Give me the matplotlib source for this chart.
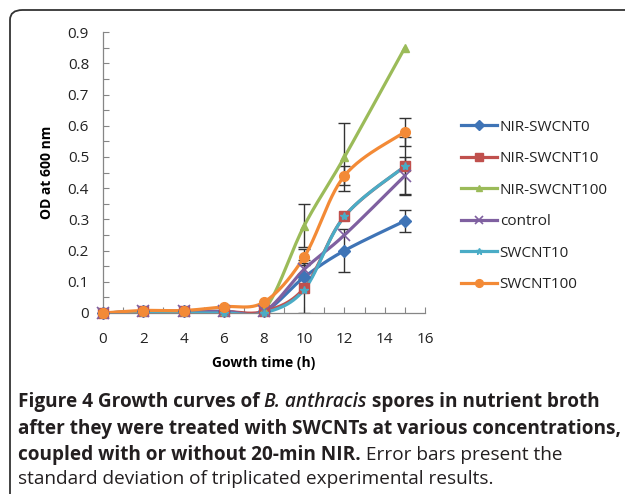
import numpy as np
import matplotlib
matplotlib.use("Agg")
import matplotlib.pyplot as plt
from matplotlib.patches import FancyBboxPatch
from matplotlib.ticker import MultipleLocator, FuncFormatter

#===============================================================================#
# data                                                   #
#===============================================================================#

hours = [0, 2, 4, 6, 8, 10, 12, 15]

nir_swcnt0   = [0.0, 0.005, 0.005, 0.005, 0.005, 0.115, 0.20, 0.295]
nir_swcnt10  = [0.0, 0.005, 0.005, 0.005, 0.005, 0.080, 0.31, 0.470]
nir_swcnt100 = [0.0, 0.005, 0.005, 0.005, 0.010, 0.280, 0.50, 0.850]
control      = [0.0, 0.005, 0.005, 0.005, 0.005, 0.140, 0.25, 0.440]
swcnt10      = [0.0, 0.000, 0.000, 0.000, 0.000, 0.075, 0.31, 0.470]
swcnt100     = [0.0, 0.008, 0.008, 0.020, 0.035, 0.180, 0.44, 0.580]

# standard deviations (only the visible ones)
err_nir_swcnt0   = [0, 0, 0, 0, 0, 0.00, 0.07, 0.035]
err_nir_swcnt10  = [0, 0, 0, 0, 0, 0.08, 0.00, 0.093]
err_nir_swcnt100 = [0, 0, 0, 0, 0, 0.07, 0.11, 0.000]
err_control      = [0, 0, 0, 0, 0, 0.03, 0.00, 0.060]
err_swcnt10      = [0, 0, 0, 0, 0, 0.00, 0.00, 0.000]
err_swcnt100     = [0, 0, 0, 0, 0, 0.025, 0.03, 0.045]

labels = ["NIR-SWCNT0", "NIR-SWCNT10", "NIR-SWCNT100", "control", "SWCNT10", "SWCNT100"]

#===============================================================================#
# helpers                                                                       #
#===============================================================================#

def smooth(x, y, n=30):
    # excel style smoothed line: cubic bezier through every point
    p = np.column_stack([x, y]).astype(float)
    pts = np.vstack([p[0], p, p[-1]])
    t = np.linspace(0, 1, n)[:, None]
    out = []
    for i in range(1, len(pts) - 2):
        p0, p1, p2, p3 = pts[i - 1], pts[i], pts[i + 1], pts[i + 2]
        c1 = p1 + (p2 - p0) / 6.0
        c2 = p2 - (p3 - p1) / 6.0
        seg = ((1 - t) ** 3) * p1 + 3 * ((1 - t) ** 2) * t * c1 + 3 * (1 - t) * t ** 2 * c2 + t ** 3 * p2
        out.append(seg if i == 1 else seg[1:])
    out = np.vstack(out)
    return out[:, 0], out[:, 1]

#===============================================================================#
# plot                                                                          #
#===============================================================================#

plt.rcParams['font.family'] = ['Open Sans', 'DejaVu Sans']

fig = plt.figure(figsize=(6.25, 4.94), dpi=100)
ax = fig.add_axes([0.1648, 0.3664, 0.5152, 0.5686])

series = [
    (nir_swcnt0,   err_nir_swcnt0,   '#3F74B6', dict(marker='D', ms=6,  mfc='#3F74B6', mec='#3F74B6')),
    (nir_swcnt10,  err_nir_swcnt10,  '#C0504D', dict(marker='s', ms=7,  mfc='#C0504D', mec='#C0504D')),
    (nir_swcnt100, err_nir_swcnt100, '#9BBB59', dict(marker='^', ms=6,  mfc='#9BBB59', mec='#9BBB59')),
    (control,      err_control,      '#7F60A0', dict(marker='x', ms=8,  mfc='none',    mec='#7F60A0', mew=1.2)),
    (swcnt10,      err_swcnt10,      '#4AACC6', dict(marker='*', ms=6,  mfc='#4AACC6', mec='#4AACC6')),
    (swcnt100,     err_swcnt100,     '#F38A36', dict(marker='o', ms=7,  mfc='#F38A36', mec='#F38A36')),
]

for (vals, errs, col, mk), lab in zip(series, labels):
    xs, ys = smooth(hours, vals)
    ax.plot(xs, ys, color=col, lw=2.3, solid_capstyle='round', zorder=3)
    ax.plot(hours, vals, ls='none', zorder=4, clip_on=False, **mk)
    lmk = dict(mk)
    lmk['ms'] = mk['ms'] * 0.8
    ax.plot([], [], color=col, lw=2.3, label=lab, **lmk)
    e = np.array(errs)
    v = np.array(vals)
    keep = e > 0
    ax.errorbar(np.array(hours)[keep], v[keep], yerr=e[keep], fmt='none',
                ecolor='#333333', elinewidth=1.0, capsize=4, capthick=1.0, zorder=2)

ax.set_xlim(0, 16)
ax.set_ylim(0, 0.9)
ax.xaxis.set_major_locator(MultipleLocator(2))
ax.xaxis.set_minor_locator(MultipleLocator(1))
ax.yaxis.set_major_locator(MultipleLocator(0.1))
ax.yaxis.set_minor_locator(MultipleLocator(0.05))
ax.yaxis.set_major_formatter(FuncFormatter(lambda v, p: "%g" % round(v, 2)))
ax.tick_params(which='both', direction='in', color='#868686', width=0.8, length=4, labelsize=11,
               labelcolor='#222222')
ax.tick_params(axis='y', pad=10)
ax.tick_params(axis='x', pad=14)
for s in ['top', 'right']:
    ax.spines[s].set_visible(False)
for s in ['left', 'bottom']:
    ax.spines[s].set_color('#868686')
    ax.spines[s].set_linewidth(0.9)

ax.set_xlabel("Gowth time (h)", fontsize=10, fontweight='bold', labelpad=6)
ax.set_ylabel("OD at 600 nm", fontsize=10, fontweight='bold', labelpad=10)

ax.legend(loc='upper left', bbox_to_anchor=(0.725, 0.773), bbox_transform=fig.transFigure,
          frameon=False, fontsize=11, handlelength=2.4, handletextpad=0.15,
          labelspacing=1.08, borderpad=0, labelcolor='#222222')

# caption-----------------------------------------------------------------------#

fs = 13.7
cap = '#231F20'
x0 = 18 / 625
fig.canvas.draw()
r = fig.canvas.get_renderer()

t1 = fig.text(x0, 1 - 402 / 494, "Figure 4 Growth curves of ", fontsize=fs, fontweight='bold',
              color=cap, va='center')
bb = t1.get_window_extent(r)
t2 = fig.text(bb.x1 / 625, 1 - 402 / 494, "B. anthracis", fontsize=fs, style='italic', fontweight='semibold',
              color=cap, va='center')
bb2 = t2.get_window_extent(r)
fig.text(bb2.x1 / 625, 1 - 402 / 494, " spores in nutrient broth", fontsize=fs, fontweight='bold',
         color=cap, va='center')
fig.text(x0, 1 - 429 / 494, "after they were treated with SWCNTs at various concentrations,",
         fontsize=fs, fontweight='bold', color=cap, va='center')
t3 = fig.text(x0, 1 - 455 / 494, "coupled with or without 20-min NIR.", fontsize=fs, fontweight='bold',
              color=cap, va='center')
bb3 = t3.get_window_extent(r)
fig.text(bb3.x1 / 625, 1 - 455 / 494, " Error bars present the", fontsize=fs,
         color=cap, va='center')
fig.text(x0, 1 - 479 / 494, "standard deviation of triplicated experimental results.", fontsize=fs,
         color=cap, va='center')

# border box----------------------------------------------------------------------#

box = FancyBboxPatch((10 / 625, -0.2), 1.2, 1.2 - 10 / 494, boxstyle="round,pad=0,rounding_size=0.02",
                     transform=fig.transFigure, fill=False, edgecolor='#333333', lw=1.3)
fig.patches.append(box)

fig.savefig("out.png", dpi=100)
